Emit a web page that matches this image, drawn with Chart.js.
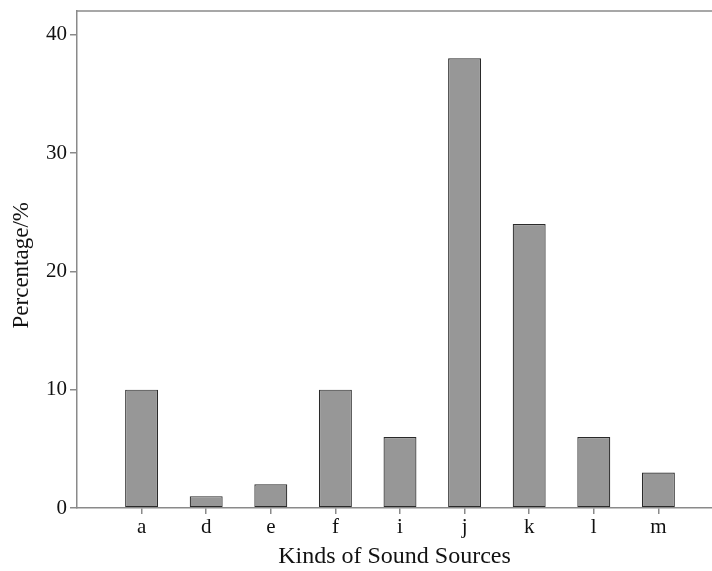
<!DOCTYPE html>
<html>
<head>
<meta charset="utf-8">
<script src="https://cdn.jsdelivr.net/npm/chart.js@4/dist/chart.umd.min.js"></script>
<style>
  html, body { margin: 0; padding: 0; background: #fff; overflow: hidden; }
</style>
</head>
<body>
<canvas id="chart1" width="712" height="571"></canvas>
<script>
// categories and values
var categories = ['a', 'd', 'e', 'f', 'i', 'j', 'k', 'l', 'm'];
var percentages = [10, 1, 2, 10, 6, 38, 24, 6, 3];
var yTicks = [0, 10, 20, 30, 40];

var axisColor = '#8a8a8a';
var serif = '"Liberation Serif", "DejaVu Serif", serif';

// bars sit at x = 1..9 on a linear axis (a gap is left before the first one)
var points = categories.map(function (c, i) {
  return { x: i + 1, y: percentages[i] };
});

// top edge of the frame
var topLine = {
  id: 'topLine',
  afterDraw: function (chart) {
    var a = chart.chartArea, ctx = chart.ctx;
    ctx.save();
    ctx.strokeStyle = axisColor;
    ctx.lineWidth = 1.5;
    ctx.beginPath();
    ctx.moveTo(a.left, a.top);
    ctx.lineTo(chart.width, a.top);
    ctx.stroke();
    ctx.restore();
  }
};

document.addEventListener("DOMContentLoaded", function () {
const ctx = document.getElementById("chart1");
const chart1 = new Chart(ctx, {
  type: 'bar',
  data: {
    datasets: [{
      data: points,
      backgroundColor: '#979797',
      borderColor: '#2a2a2a',
      borderWidth: 1.2,
      borderSkipped: false,
      barPercentage: 0.51,
      categoryPercentage: 1
    }]
  },
  options: {
    responsive: false,
    animation: false,
    layout: { padding: { top: 11, right: 0, left: 0, bottom: 0 } },
    plugins: {
      legend: { display: false },
      tooltip: { enabled: false }
    },
    scales: {
      x: {
        type: 'linear',
        offset: false,
        min: 0,
        max: 9.83,
        afterBuildTicks: function (scale) {
          scale.ticks = categories.map(function (c, i) { return { value: i + 1 }; });
        },
        afterFit: function (scale) { scale.height = 63; },
        ticks: {
          autoSkip: false,
          maxRotation: 0,
          padding: 1,
          color: '#111',
          font: { family: serif, size: 21 },
          callback: function (v) { return categories[v - 1] || ''; }
        },
        grid: {
          offset: false,
          z: 1,
          drawOnChartArea: false,
          drawTicks: true,
          tickLength: 6,
          color: axisColor,
          lineWidth: 1.5
        },
        border: { color: axisColor, width: 1.5, z: 2 },
        title: {
          display: true,
          text: 'Kinds of Sound Sources',
          color: '#111',
          font: { family: serif, size: 24 },
          padding: { top: 0, bottom: 0 }
        }
      },
      y: {
        min: 0,
        max: 42,
        afterBuildTicks: function (scale) {
          scale.ticks = yTicks.map(function (v) { return { value: v }; });
        },
        afterFit: function (scale) { scale.width = 77; },
        ticks: {
          padding: 3,
          color: '#111',
          font: { family: serif, size: 21, lineHeight: 0.6 }
        },
        grid: {
          drawOnChartArea: false,
          drawTicks: true,
          tickLength: 7,
          color: axisColor,
          lineWidth: 1.5
        },
        border: { color: axisColor, width: 1.5, z: 2 },
        title: {
          display: true,
          text: 'Percentage/%  ',
          color: '#111',
          font: { family: serif, size: 23 },
          padding: { top: 8, bottom: 0 }
        }
      }
    }
  },
  plugins: [topLine]
});
});
</script>
</body>
</html>
